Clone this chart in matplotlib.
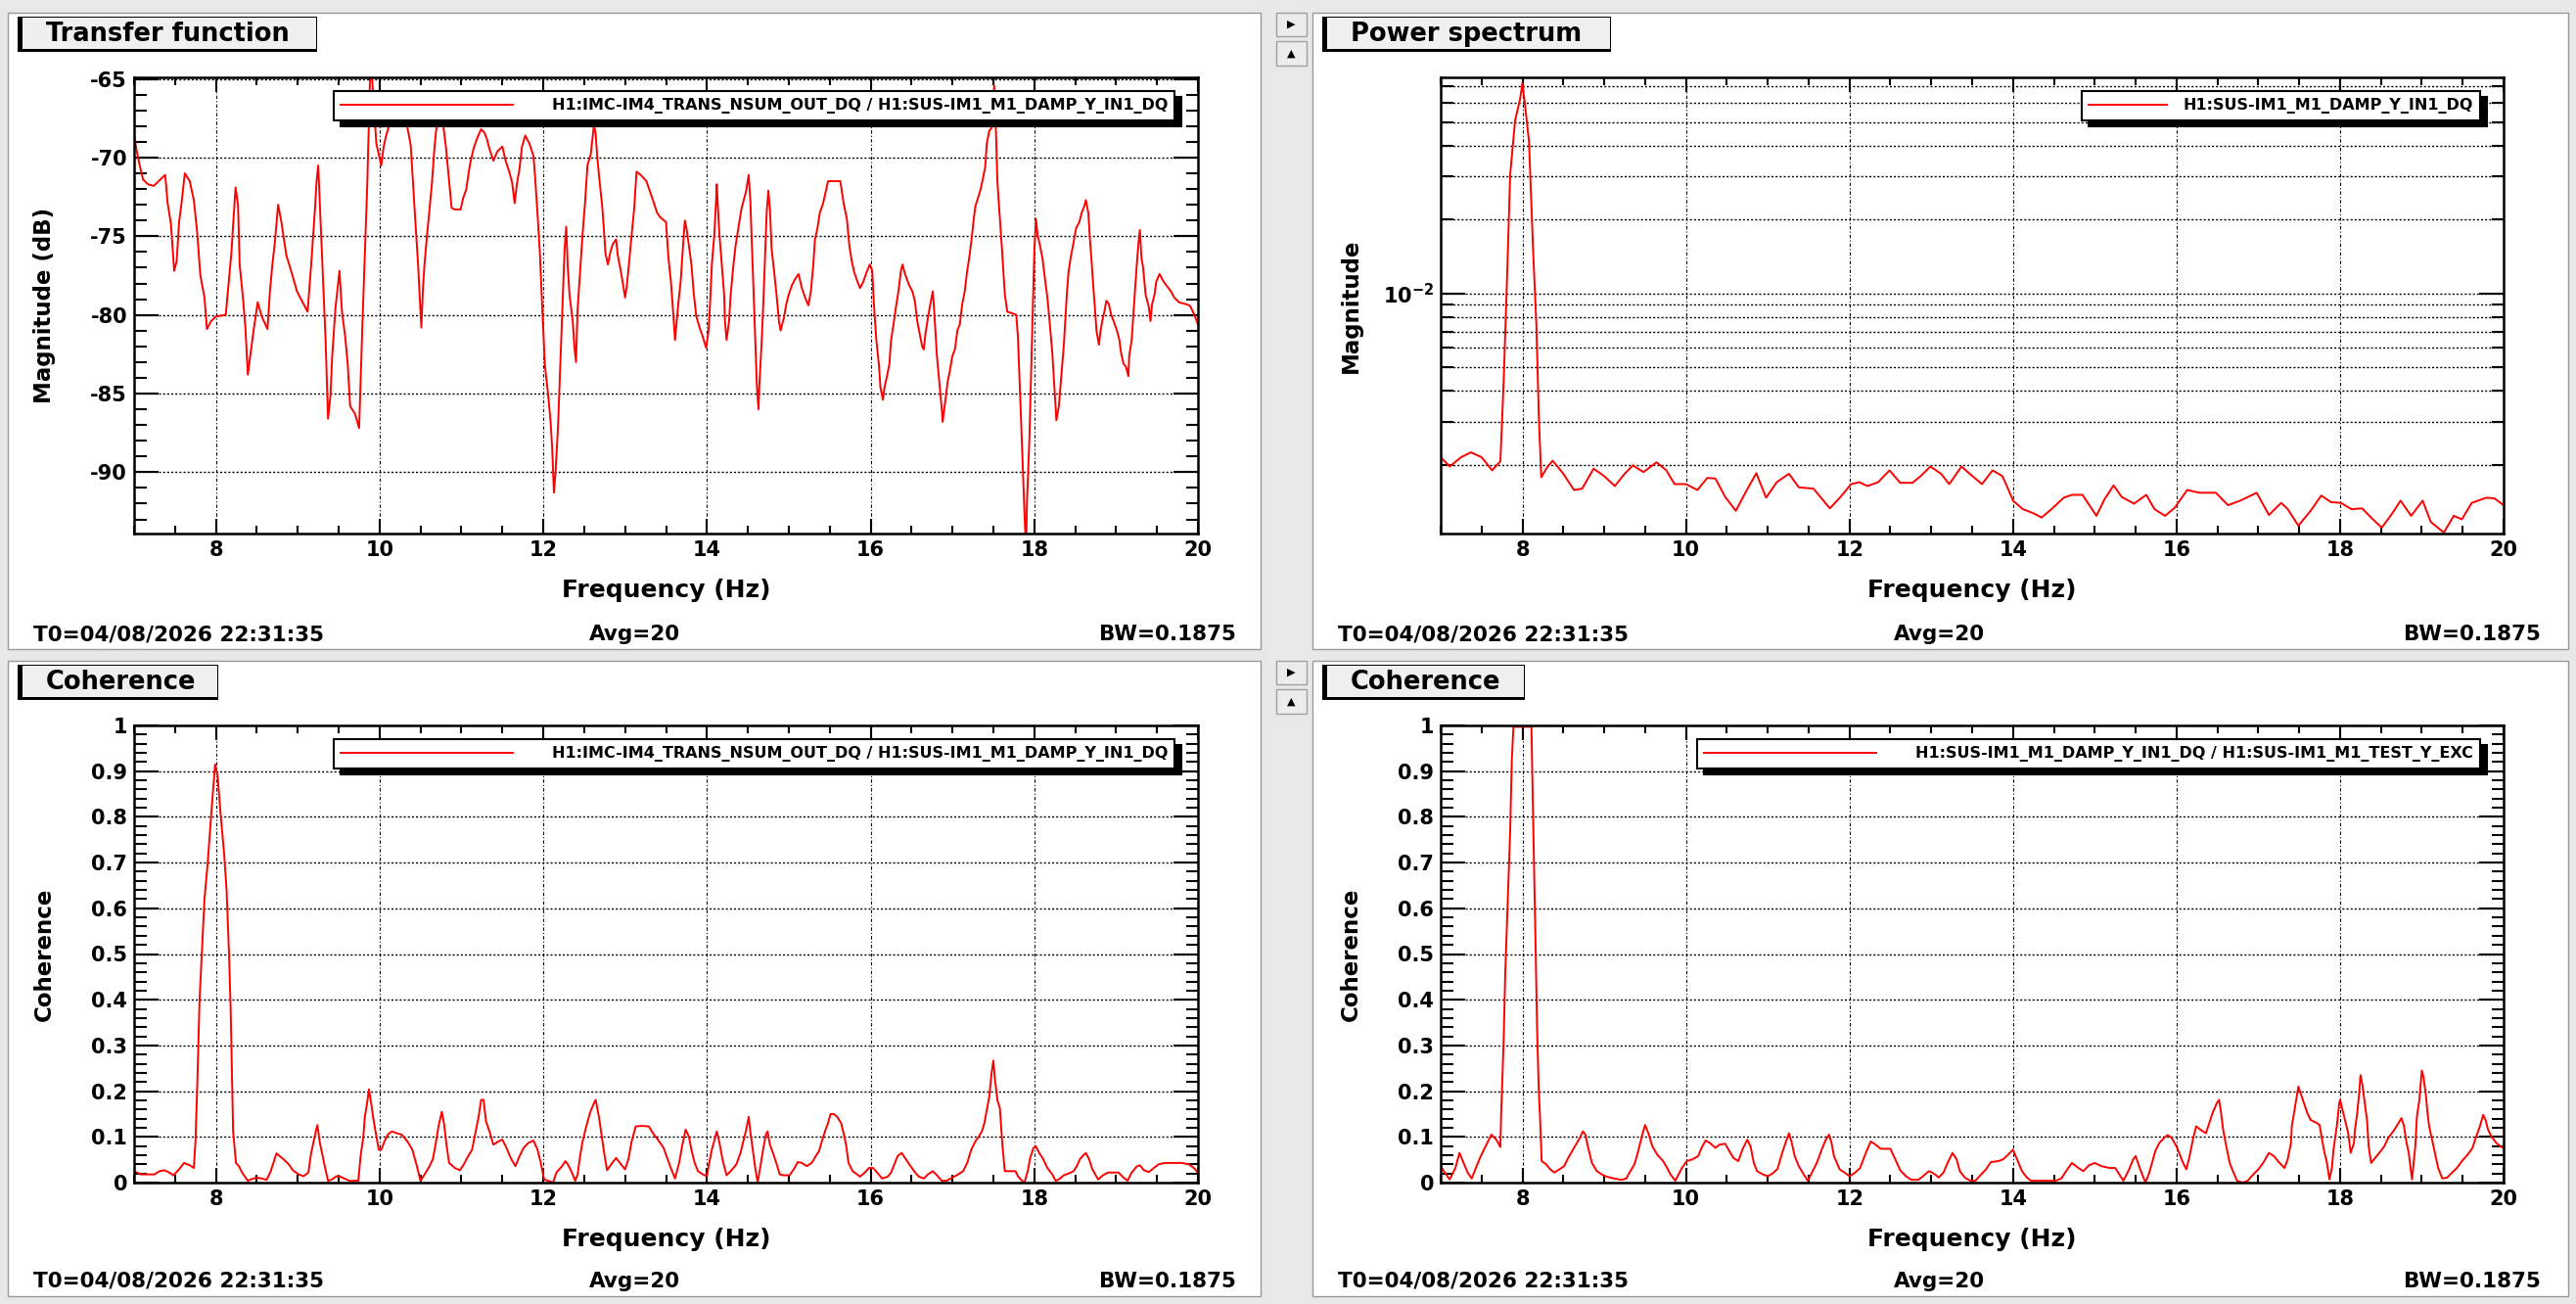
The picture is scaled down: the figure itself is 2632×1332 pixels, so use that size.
import matplotlib.pyplot as plt
from matplotlib.patches import Rectangle
from matplotlib.ticker import (MultipleLocator, FixedLocator, LogLocator,
                               NullFormatter, FuncFormatter)

W, H = 2632, 1332  # output size in pixels

# ---------------------------------------------------------------------------
# data
# ---------------------------------------------------------------------------
chan_tf = 'H1:IMC-IM4_TRANS_NSUM_OUT_DQ / H1:SUS-IM1_M1_DAMP_Y_IN1_DQ'
chan_ps = 'H1:SUS-IM1_M1_DAMP_Y_IN1_DQ'
chan_coh2 = 'H1:SUS-IM1_M1_DAMP_Y_IN1_DQ / H1:SUS-IM1_M1_TEST_Y_EXC'

# transfer function magnitude (dB)
tf_freq = [
    7.00, 7.03, 7.06, 7.11, 7.17, 7.24, 7.30, 7.38, 7.41, 7.45,
    7.49, 7.52, 7.55, 7.58, 7.62, 7.68, 7.73, 7.77, 7.81, 7.86,
    7.89, 7.94, 8.00, 8.12, 8.16, 8.19, 8.21, 8.24, 8.27, 8.29,
    8.33, 8.36, 8.39, 8.42, 8.46, 8.51, 8.56, 8.63, 8.66, 8.69,
    8.72, 8.76, 8.80, 8.86, 8.93, 8.99, 9.06, 9.12, 9.16, 9.21,
    9.23, 9.25, 9.29, 9.34, 9.37, 9.40, 9.42, 9.46, 9.51, 9.54,
    9.58, 9.61, 9.64, 9.70, 9.75, 9.79, 9.82, 9.85, 9.89, 9.96,
    10.02, 10.05, 10.08, 10.20, 10.30, 10.38, 10.41, 10.44, 10.47, 10.50,
    10.51, 10.53, 10.55, 10.58, 10.61, 10.64, 10.67, 10.69, 10.75, 10.81,
    10.84, 10.88, 10.92, 10.99, 11.02, 11.06, 11.09, 11.11, 11.15, 11.19,
    11.24, 11.28, 11.31, 11.34, 11.39, 11.44, 11.50, 11.54, 11.59, 11.62,
    11.65, 11.68, 11.71, 11.74, 11.78, 11.83, 11.88, 11.90, 11.93, 11.96,
    11.98, 12.00, 12.02, 12.06, 12.09, 12.11, 12.13, 12.15, 12.18, 12.20,
    12.22, 12.24, 12.26, 12.28, 12.30, 12.32, 12.36, 12.38, 12.40, 12.42,
    12.45, 12.48, 12.51, 12.54, 12.58, 12.62, 12.64, 12.66, 12.69, 12.72,
    12.74, 12.76, 12.79, 12.82, 12.85, 12.89, 12.91, 12.94, 12.97, 13.00,
    13.02, 13.05, 13.08, 13.11, 13.14, 13.19, 13.26, 13.30, 13.34, 13.39,
    13.43, 13.50, 13.53, 13.56, 13.58, 13.61, 13.65, 13.68, 13.70, 13.73,
    13.75, 13.78, 13.81, 13.84, 13.87, 13.91, 13.95, 13.99, 14.02, 14.04,
    14.06, 14.09, 14.11, 14.12, 14.15, 14.18, 14.21, 14.22, 14.24, 14.27,
    14.29, 14.32, 14.35, 14.39, 14.42, 14.45, 14.48, 14.51, 14.53, 14.55,
    14.57, 14.59, 14.61, 14.63, 14.64, 14.67, 14.69, 14.71, 14.73, 14.75,
    14.77, 14.79, 14.82, 14.85, 14.88, 14.90, 14.94, 14.97, 15.00, 15.04,
    15.08, 15.12, 15.16, 15.20, 15.24, 15.27, 15.30, 15.32, 15.35, 15.38,
    15.42, 15.45, 15.48, 15.63, 15.67, 15.71, 15.74, 15.77, 15.80, 15.84,
    15.87, 15.91, 15.95, 15.99, 16.02, 16.04, 16.07, 16.10, 16.12, 16.15,
    16.17, 16.20, 16.23, 16.25, 16.28, 16.31, 16.34, 16.37, 16.39, 16.42,
    16.47, 16.51, 16.54, 16.57, 16.60, 16.63, 16.65, 16.67, 16.70, 16.73,
    16.76, 16.78, 16.81, 16.84, 16.87, 16.88, 16.91, 16.94, 16.97, 17.00,
    17.03, 17.06, 17.09, 17.12, 17.15, 17.18, 17.21, 17.24, 17.26, 17.28,
    17.31, 17.34, 17.37, 17.40, 17.42, 17.45, 17.48, 17.51, 17.53, 17.55,
    17.58, 17.61, 17.64, 17.67, 17.73, 17.78, 17.80, 17.82, 17.84, 17.86,
    17.88, 17.90, 17.91, 17.94, 17.96, 17.98, 18.00, 18.02, 18.04, 18.07,
    18.10, 18.13, 18.16, 18.19, 18.22, 18.24, 18.26, 18.27, 18.30, 18.33,
    18.36, 18.38, 18.40, 18.42, 18.45, 18.48, 18.51, 18.55, 18.58, 18.61,
    18.63, 18.66, 18.68, 18.70, 18.72, 18.74, 18.76, 18.79, 18.81, 18.83,
    18.86, 18.88, 18.91, 18.94, 18.97, 19.01, 19.04, 19.06, 19.09, 19.12,
    19.15, 19.16, 19.19, 19.21, 19.23, 19.25, 19.27, 19.29, 19.31, 19.33,
    19.36, 19.38, 19.40, 19.42, 19.44, 19.47, 19.49, 19.53, 19.57, 19.61,
    19.67, 19.71, 19.77, 19.84, 19.90, 19.94, 20.00,
]
tf_db = [
    -68.6, -69.5, -70.3, -71.4, -71.7, -71.8, -71.5, -71.1, -72.9, -74.2,
    -77.2, -76.6, -74.1, -72.9, -71.0, -71.5, -72.7, -74.7, -77.5, -78.9,
    -80.9, -80.4, -80.1, -80.0, -77.7, -76.0, -74.3, -71.9, -73.0, -76.8,
    -78.9, -80.8, -83.8, -82.6, -81.0, -79.2, -80.1, -80.9, -78.5, -76.8,
    -75.4, -73.0, -74.1, -76.2, -77.4, -78.5, -79.2, -79.8, -77.1, -73.3,
    -71.5, -70.5, -75.4, -81.6, -86.6, -85.1, -82.7, -79.6, -77.2, -79.8,
    -81.4, -83.1, -85.8, -86.3, -87.2, -80.6, -76.1, -71.6, -63.5, -69.1,
    -70.5, -69.3, -68.6, -66.5, -67.0, -69.2, -71.8, -74.3, -76.8, -79.8,
    -80.8, -78.3, -76.7, -74.9, -73.3, -71.6, -69.4, -68.3, -66.8, -69.3,
    -71.0, -73.2, -73.3, -73.3, -72.6, -72.0, -70.9, -70.3, -69.4, -68.8,
    -68.2, -68.4, -68.8, -69.4, -70.2, -69.6, -69.3, -70.2, -71.0, -71.6,
    -72.9, -71.6, -70.7, -69.3, -68.6, -69.1, -69.9, -71.2, -73.6, -76.2,
    -78.7, -81.0, -83.2, -85.1, -86.8, -88.6, -91.3, -90.0, -87.1, -84.3,
    -81.5, -78.7, -75.9, -74.4, -77.0, -78.7, -80.4, -82.0, -83.0, -79.6,
    -77.3, -74.9, -72.9, -70.5, -69.8, -67.9, -68.5, -70.0, -71.6, -73.1,
    -74.5, -76.1, -76.8, -76.0, -75.5, -75.2, -76.2, -77.0, -77.9, -78.9,
    -78.2, -76.6, -74.9, -73.3, -70.9, -71.1, -71.5, -72.1, -72.7, -73.5,
    -73.8, -74.1, -76.4, -77.9, -79.3, -81.6, -79.3, -77.8, -76.2, -74.0,
    -74.5, -75.6, -76.8, -78.7, -80.1, -80.8, -81.4, -82.1, -81.0, -79.1,
    -76.8, -74.9, -72.9, -71.7, -74.7, -76.7, -78.7, -80.4, -81.6, -80.4,
    -78.7, -77.0, -75.6, -74.3, -73.3, -72.7, -72.1, -71.1, -72.7, -75.6,
    -78.5, -81.5, -84.5, -86.0, -84.5, -81.6, -79.1, -76.3, -73.5, -72.1,
    -73.3, -75.8, -77.2, -78.7, -80.4, -81.0, -80.2, -79.3, -78.7, -78.1,
    -77.7, -77.4, -78.3, -78.9, -79.4, -78.5, -76.8, -75.2, -74.5, -73.5,
    -72.9, -72.2, -71.5, -71.5, -72.9, -73.9, -75.6, -76.6, -77.3, -77.9,
    -78.3, -77.9, -77.3, -76.8, -77.2, -79.3, -81.6, -83.1, -84.6, -85.4,
    -84.6, -83.9, -83.1, -81.6, -80.6, -79.5, -78.5, -77.2, -76.8, -77.4,
    -78.1, -78.5, -79.1, -80.4, -81.2, -82.0, -82.2, -81.2, -80.2, -79.3,
    -78.5, -80.0, -82.6, -84.3, -86.0, -86.8, -85.6, -84.3, -83.5, -82.6,
    -82.2, -81.0, -80.6, -79.3, -78.5, -77.2, -76.2, -74.9, -73.9, -73.1,
    -72.6, -72.1, -71.4, -70.6, -69.1, -68.3, -68.1, -65.4, -68.1, -71.6,
    -73.9, -76.2, -78.7, -79.8, -79.9, -80.0, -81.4, -84.1, -86.9, -89.7,
    -92.6, -95.0, -92.0, -87.9, -83.9, -80.0, -76.0, -73.9, -74.9, -75.6,
    -76.4, -77.7, -78.9, -80.6, -82.4, -84.1, -85.8, -86.7, -85.8, -83.9,
    -82.0, -80.2, -78.5, -77.2, -76.2, -75.4, -74.5, -74.1, -73.5, -73.1,
    -72.7, -73.5, -75.2, -76.6, -78.1, -79.5, -81.0, -81.9, -81.0, -80.4,
    -79.7, -79.1, -79.3, -80.0, -80.4, -81.0, -81.6, -82.4, -83.1, -83.3,
    -83.9, -82.6, -81.6, -80.0, -78.5, -77.0, -75.6, -74.6, -76.4, -77.0,
    -78.7, -79.1, -79.5, -80.4, -79.3, -78.7, -77.9, -77.4, -77.8, -78.1,
    -78.5, -78.9, -79.2, -79.3, -79.4, -79.8, -80.6,
]

# power spectrum magnitude
ps_freq = [
    7.00, 7.11, 7.25, 7.37, 7.50, 7.63, 7.73, 7.77, 7.81, 7.85,
    7.91, 7.97, 8.00, 8.03, 8.08, 8.13, 8.17, 8.20, 8.23, 8.30,
    8.37, 8.50, 8.63, 8.73, 8.87, 9.00, 9.13, 9.25, 9.35, 9.48,
    9.64, 9.76, 9.86, 10.00, 10.14, 10.26, 10.36, 10.48, 10.61, 10.74,
    10.86, 10.98, 11.11, 11.26, 11.38, 11.56, 11.76, 11.89, 12.02, 12.12,
    12.22, 12.35, 12.49, 12.62, 12.77, 12.87, 12.99, 13.12, 13.22, 13.37,
    13.47, 13.62, 13.75, 13.87, 13.95, 14.00, 14.12, 14.25, 14.35, 14.47,
    14.62, 14.72, 14.85, 15.02, 15.12, 15.23, 15.33, 15.48, 15.63, 15.73,
    15.86, 15.98, 16.13, 16.28, 16.48, 16.63, 16.78, 16.98, 17.13, 17.28,
    17.36, 17.49, 17.64, 17.77, 17.89, 18.01, 18.14, 18.27, 18.39, 18.51,
    18.64, 18.74, 18.87, 19.01, 19.11, 19.27, 19.39, 19.49, 19.61, 19.79,
    19.89, 20.00,
]
ps_mag = [
    2.15e-3, 1.97e-3, 2.15e-3, 2.25e-3, 2.15e-3, 1.90e-3, 2.07e-3, 4.34e-3, 1.11e-2, 3.05e-2,
    5.07e-2, 6.17e-2, 7.20e-2, 5.93e-2, 4.17e-2, 1.51e-2, 7.50e-3, 3.18e-3, 1.78e-3, 1.95e-3,
    2.08e-3, 1.84e-3, 1.58e-3, 1.60e-3, 1.93e-3, 1.80e-3, 1.64e-3, 1.84e-3, 1.99e-3, 1.87e-3,
    2.05e-3, 1.90e-3, 1.67e-3, 1.67e-3, 1.58e-3, 1.77e-3, 1.76e-3, 1.48e-3, 1.30e-3, 1.57e-3,
    1.85e-3, 1.47e-3, 1.70e-3, 1.84e-3, 1.62e-3, 1.60e-3, 1.33e-3, 1.48e-3, 1.67e-3, 1.70e-3,
    1.64e-3, 1.70e-3, 1.90e-3, 1.69e-3, 1.69e-3, 1.80e-3, 1.97e-3, 1.84e-3, 1.67e-3, 1.97e-3,
    1.84e-3, 1.67e-3, 1.90e-3, 1.80e-3, 1.57e-3, 1.43e-3, 1.32e-3, 1.27e-3, 1.22e-3, 1.32e-3,
    1.47e-3, 1.51e-3, 1.51e-3, 1.24e-3, 1.45e-3, 1.65e-3, 1.48e-3, 1.39e-3, 1.51e-3, 1.32e-3,
    1.24e-3, 1.34e-3, 1.58e-3, 1.54e-3, 1.54e-3, 1.37e-3, 1.43e-3, 1.54e-3, 1.25e-3, 1.40e-3,
    1.32e-3, 1.13e-3, 1.30e-3, 1.50e-3, 1.41e-3, 1.40e-3, 1.32e-3, 1.33e-3, 1.21e-3, 1.11e-3,
    1.27e-3, 1.43e-3, 1.24e-3, 1.43e-3, 1.17e-3, 1.06e-3, 1.24e-3, 1.20e-3, 1.40e-3, 1.47e-3,
    1.46e-3, 1.37e-3,
]

# coherence IMC-IM4 / SUS-IM1 damp
coh1_freq = [
    7.00, 7.08, 7.25, 7.31, 7.37, 7.43, 7.48, 7.55, 7.61, 7.68,
    7.73, 7.75, 7.77, 7.80, 7.83, 7.86, 7.90, 7.94, 7.99, 8.02,
    8.06, 8.10, 8.13, 8.16, 8.18, 8.195, 8.21, 8.245, 8.28, 8.32,
    8.39, 8.43, 8.49, 8.56, 8.62, 8.67, 8.74, 8.82, 8.89, 8.94,
    9.01, 9.07, 9.13, 9.16, 9.19, 9.22, 9.24, 9.27, 9.30, 9.33,
    9.37, 9.42, 9.47, 9.52, 9.57, 9.63, 9.74, 9.77, 9.80, 9.82,
    9.85, 9.87, 9.90, 9.92, 9.95, 9.99, 10.02, 10.06, 10.10, 10.15,
    10.21, 10.27, 10.34, 10.40, 10.45, 10.50, 10.55, 10.61, 10.65, 10.68,
    10.72, 10.76, 10.79, 10.82, 10.85, 10.92, 10.98, 11.03, 11.07, 11.13,
    11.17, 11.21, 11.24, 11.27, 11.30, 11.35, 11.39, 11.45, 11.50, 11.55,
    11.61, 11.66, 11.71, 11.76, 11.82, 11.88, 11.93, 11.97, 12.01, 12.06,
    12.12, 12.16, 12.23, 12.27, 12.30, 12.35, 12.39, 12.42, 12.45, 12.48,
    12.53, 12.57, 12.61, 12.64, 12.68, 12.72, 12.75, 12.78, 12.83, 12.89,
    12.95, 13.00, 13.04, 13.08, 13.13, 13.21, 13.29, 13.34, 13.40, 13.47,
    13.55, 13.61, 13.66, 13.70, 13.74, 13.78, 13.81, 13.85, 13.89, 13.95,
    14.00, 14.02, 14.06, 14.12, 14.15, 14.19, 14.24, 14.30, 14.36, 14.41,
    14.45, 14.48, 14.51, 14.53, 14.56, 14.59, 14.62, 14.65, 14.69, 14.72,
    14.74, 14.77, 14.82, 14.86, 14.89, 14.94, 15.01, 15.06, 15.11, 15.16,
    15.22, 15.28, 15.33, 15.37, 15.41, 15.45, 15.48, 15.51, 15.55, 15.59,
    15.64, 15.67, 15.70, 15.73, 15.78, 15.82, 15.87, 15.93, 15.98, 16.03,
    16.08, 16.14, 16.21, 16.25, 16.29, 16.33, 16.38, 16.42, 16.48, 16.54,
    16.59, 16.65, 16.70, 16.76, 16.81, 16.87, 16.93, 17.00, 17.07, 17.13,
    17.18, 17.23, 17.28, 17.32, 17.36, 17.39, 17.42, 17.45, 17.48, 17.50,
    17.52, 17.55, 17.58, 17.61, 17.64, 17.70, 17.77, 17.80, 17.85, 17.88,
    17.92, 17.95, 17.99, 18.02, 18.06, 18.11, 18.16, 18.22, 18.26, 18.30,
    18.36, 18.42, 18.48, 18.52, 18.56, 18.63, 18.67, 18.71, 18.78, 18.84,
    18.90, 19.03, 19.09, 19.14, 19.19, 19.25, 19.29, 19.34, 19.40, 19.46,
    19.52, 19.59, 19.80, 19.89, 19.95, 20.00,
]
coh1_val = [
    0.025, 0.018, 0.018, 0.025, 0.027, 0.022, 0.016, 0.029, 0.043, 0.038,
    0.032, 0.090, 0.200, 0.400, 0.510, 0.620, 0.700, 0.800, 0.915, 0.890,
    0.800, 0.720, 0.640, 0.500, 0.380, 0.245, 0.112, 0.043, 0.036, 0.022,
    0.004, 0.007, 0.011, 0.009, 0.006, 0.025, 0.064, 0.052, 0.040, 0.027,
    0.018, 0.014, 0.022, 0.061, 0.087, 0.112, 0.126, 0.087, 0.061, 0.036,
    0.004, 0.007, 0.014, 0.013, 0.009, 0.004, 0.004, 0.061, 0.098, 0.144,
    0.177, 0.204, 0.170, 0.144, 0.112, 0.072, 0.072, 0.090, 0.105, 0.112,
    0.108, 0.105, 0.090, 0.072, 0.040, 0.004, 0.018, 0.036, 0.051, 0.079,
    0.123, 0.155, 0.126, 0.079, 0.043, 0.032, 0.027, 0.040, 0.054, 0.072,
    0.108, 0.144, 0.181, 0.181, 0.134, 0.108, 0.083, 0.090, 0.094, 0.076,
    0.051, 0.036, 0.058, 0.076, 0.087, 0.092, 0.072, 0.043, 0.007, 0.004,
    0.000, 0.022, 0.036, 0.047, 0.040, 0.022, 0.004, 0.018, 0.058, 0.090,
    0.126, 0.152, 0.170, 0.181, 0.144, 0.094, 0.058, 0.027, 0.040, 0.054,
    0.040, 0.029, 0.051, 0.090, 0.123, 0.124, 0.123, 0.108, 0.094, 0.076,
    0.036, 0.009, 0.043, 0.083, 0.116, 0.100, 0.072, 0.043, 0.025, 0.018,
    0.014, 0.036, 0.072, 0.112, 0.090, 0.051, 0.016, 0.027, 0.040, 0.065,
    0.094, 0.116, 0.144, 0.112, 0.072, 0.032, 0.000, 0.032, 0.076, 0.105,
    0.112, 0.083, 0.058, 0.036, 0.018, 0.016, 0.016, 0.029, 0.045, 0.043,
    0.036, 0.043, 0.058, 0.069, 0.094, 0.116, 0.130, 0.150, 0.150, 0.144,
    0.130, 0.108, 0.083, 0.043, 0.025, 0.020, 0.013, 0.022, 0.032, 0.032,
    0.022, 0.009, 0.013, 0.022, 0.040, 0.058, 0.065, 0.054, 0.038, 0.023,
    0.013, 0.009, 0.018, 0.025, 0.016, 0.004, 0.004, 0.011, 0.018, 0.025,
    0.043, 0.072, 0.090, 0.100, 0.112, 0.130, 0.159, 0.188, 0.242, 0.267,
    0.224, 0.180, 0.162, 0.083, 0.025, 0.025, 0.025, 0.014, 0.004, 0.000,
    0.025, 0.054, 0.076, 0.079, 0.065, 0.051, 0.032, 0.018, 0.004, 0.007,
    0.016, 0.020, 0.025, 0.036, 0.052, 0.065, 0.051, 0.029, 0.007, 0.016,
    0.022, 0.022, 0.011, 0.004, 0.022, 0.035, 0.038, 0.027, 0.023, 0.032,
    0.040, 0.043, 0.043, 0.040, 0.032, 0.022,
]

# coherence SUS-IM1 damp / SUS-IM1 test excitation
coh2_freq = [
    7.00, 7.05, 7.11, 7.18, 7.23, 7.28, 7.33, 7.38, 7.43, 7.49,
    7.54, 7.58, 7.62, 7.68, 7.73, 7.74, 7.77, 7.79, 7.82, 7.85,
    7.87, 7.89, 8.00, 8.11, 8.12, 8.14, 8.16, 8.18, 8.20, 8.215,
    8.235, 8.29, 8.34, 8.39, 8.46, 8.51, 8.56, 8.63, 8.69, 8.74,
    8.77, 8.80, 8.85, 8.91, 8.97, 9.03, 9.12, 9.21, 9.27, 9.31,
    9.37, 9.41, 9.46, 9.50, 9.54, 9.59, 9.65, 9.72, 9.77, 9.81,
    9.87, 9.91, 9.95, 10.01, 10.08, 10.15, 10.19, 10.24, 10.29, 10.36,
    10.41, 10.48, 10.53, 10.58, 10.64, 10.69, 10.75, 10.79, 10.83, 10.87,
    10.94, 11.00, 11.06, 11.12, 11.17, 11.21, 11.26, 11.29, 11.33, 11.38,
    11.44, 11.49, 11.53, 11.60, 11.66, 11.71, 11.75, 11.78, 11.81, 11.88,
    11.94, 12.00, 12.07, 12.13, 12.20, 12.26, 12.32, 12.38, 12.50, 12.56,
    12.62, 12.69, 12.76, 12.84, 12.90, 12.97, 13.01, 13.06, 13.09, 13.15,
    13.20, 13.26, 13.31, 13.35, 13.41, 13.48, 13.54, 13.60, 13.67, 13.73,
    13.82, 13.88, 13.94, 14.00, 14.05, 14.11, 14.17, 14.22, 14.52, 14.59,
    14.65, 14.72, 14.80, 14.86, 14.93, 15.00, 15.08, 15.18, 15.25, 15.30,
    15.35, 15.42, 15.47, 15.50, 15.55, 15.58, 15.62, 15.66, 15.70, 15.74,
    15.79, 15.85, 15.89, 15.94, 16.00, 16.04, 16.08, 16.12, 16.16, 16.20,
    16.24, 16.29, 16.36, 16.40, 16.44, 16.49, 16.52, 16.54, 16.57, 16.60,
    16.65, 16.69, 16.74, 16.81, 16.87, 16.94, 17.00, 17.06, 17.13, 17.19,
    17.26, 17.32, 17.36, 17.40, 17.41, 17.44, 17.47, 17.49, 17.52, 17.56,
    17.60, 17.64, 17.71, 17.75, 17.78, 17.81, 17.84, 17.87, 17.90, 17.92,
    17.96, 17.99, 18.00, 18.04, 18.07, 18.10, 18.13, 18.17, 18.18, 18.21,
    18.23, 18.25, 18.27, 18.30, 18.33, 18.35, 18.38, 18.43, 18.48, 18.54,
    18.59, 18.65, 18.69, 18.75, 18.78, 18.81, 18.84, 18.86, 18.88, 18.90,
    18.92, 18.94, 18.97, 19.00, 19.02, 19.05, 19.07, 19.09, 19.12, 19.16,
    19.20, 19.25, 19.31, 19.37, 19.43, 19.49, 19.56, 19.62, 19.66, 19.71,
    19.75, 19.78, 19.81, 19.85, 19.91, 19.97, 20.00,
]
coh2_val = [
    0.036, 0.022, 0.007, 0.032, 0.065, 0.043, 0.022, 0.009, 0.032, 0.058,
    0.076, 0.090, 0.105, 0.094, 0.078, 0.152, 0.310, 0.460, 0.615, 0.770,
    0.924, 0.997, 0.997, 0.997, 0.897, 0.715, 0.524, 0.330, 0.200, 0.144,
    0.047, 0.040, 0.029, 0.022, 0.030, 0.036, 0.054, 0.076, 0.094, 0.112,
    0.105, 0.079, 0.043, 0.025, 0.018, 0.013, 0.009, 0.006, 0.009, 0.022,
    0.040, 0.065, 0.101, 0.126, 0.108, 0.079, 0.061, 0.047, 0.032, 0.018,
    0.004, 0.018, 0.032, 0.047, 0.051, 0.058, 0.076, 0.092, 0.087, 0.076,
    0.083, 0.085, 0.069, 0.054, 0.047, 0.072, 0.094, 0.079, 0.043, 0.025,
    0.018, 0.014, 0.020, 0.030, 0.061, 0.083, 0.108, 0.090, 0.058, 0.036,
    0.018, 0.004, 0.018, 0.043, 0.072, 0.094, 0.105, 0.087, 0.058, 0.029,
    0.022, 0.014, 0.022, 0.032, 0.065, 0.090, 0.083, 0.074, 0.074, 0.051,
    0.027, 0.014, 0.006, 0.006, 0.014, 0.025, 0.022, 0.016, 0.011, 0.022,
    0.043, 0.065, 0.051, 0.025, 0.011, 0.004, 0.004, 0.016, 0.029, 0.045,
    0.047, 0.051, 0.061, 0.072, 0.051, 0.025, 0.011, 0.004, 0.004, 0.009,
    0.025, 0.043, 0.032, 0.025, 0.038, 0.043, 0.036, 0.032, 0.032, 0.018,
    0.004, 0.029, 0.051, 0.058, 0.032, 0.018, 0.000, 0.018, 0.043, 0.069,
    0.087, 0.098, 0.104, 0.098, 0.079, 0.061, 0.043, 0.029, 0.058, 0.094,
    0.123, 0.116, 0.108, 0.130, 0.152, 0.173, 0.181, 0.159, 0.116, 0.087,
    0.043, 0.025, 0.004, 0.000, 0.004, 0.018, 0.029, 0.043, 0.065, 0.058,
    0.043, 0.032, 0.051, 0.087, 0.123, 0.155, 0.188, 0.210, 0.194, 0.173,
    0.152, 0.137, 0.131, 0.126, 0.094, 0.065, 0.043, 0.007, 0.032, 0.072,
    0.123, 0.173, 0.181, 0.152, 0.130, 0.108, 0.065, 0.087, 0.112, 0.152,
    0.188, 0.235, 0.217, 0.177, 0.137, 0.079, 0.043, 0.054, 0.065, 0.079,
    0.098, 0.112, 0.123, 0.141, 0.126, 0.090, 0.065, 0.036, 0.007, 0.043,
    0.079, 0.144, 0.181, 0.245, 0.231, 0.191, 0.152, 0.123, 0.098, 0.065,
    0.032, 0.009, 0.011, 0.022, 0.032, 0.047, 0.061, 0.076, 0.098, 0.123,
    0.148, 0.137, 0.116, 0.101, 0.087, 0.078, 0.076,
]

footer = ('T0=04/08/2026 22:31:35', 'Avg=20', 'BW=0.1875')

# ---------------------------------------------------------------------------
# helpers (geometry in screenshot pixels, origin top-left)
# ---------------------------------------------------------------------------
def fig_rect(x0, y0, x1, y1):
    return [x0 / W, 1 - y1 / H, (x1 - x0) / W, (y1 - y0) / H]


def add_box(fig, x0, y0, x1, y1, **kw):
    l, b, w, h = fig_rect(x0, y0, x1, y1)
    fig.add_artist(Rectangle((l, b), w, h, transform=fig.transFigure, **kw))


def draw_pad(fig, left, top, right, bottom, title, title_right, buttons):
    # white pad with a thin grey border
    add_box(fig, left, top, right, bottom, facecolor='white',
            edgecolor='#9a9a9a', linewidth=1.0, zorder=-5)
    # raised title box: dark left and bottom edge
    add_box(fig, left + 10, top + 4, title_right, top + 40,
            facecolor='black', edgecolor='none', zorder=5)
    add_box(fig, left + 15, top + 5, title_right - 1, top + 37,
            facecolor='#f0f0f0', edgecolor='none', zorder=5)
    fig.text((left + 39) / W, 1 - (top + 21.5) / H, title, fontsize=18.5,
             ha='left', va='center', zorder=6)
    # footer line
    y = 1 - (bottom - 15) / H
    fig.text((left + 26) / W, y, footer[0], fontsize=15.5, ha='left', va='center')
    fig.text((left + 640) / W, y, footer[1], fontsize=15.5, ha='center', va='center')
    fig.text((left + 1255) / W, y, footer[2], fontsize=15.5, ha='right', va='center')
    # little arrow buttons left of the right-hand pads
    if buttons:
        for (b0, b1), glyph in zip([(top, top + 24), (top + 29, top + 54)], ['▶', '▲']):
            add_box(fig, 1304, b0, 1335, b1, facecolor='#ececec',
                    edgecolor='#a0a0a0', linewidth=1.0, zorder=5)
            fig.text(1319.5 / W, 1 - (b0 + b1) / 2 / H, glyph, fontsize=8,
                     ha='center', va='center', zorder=6)


def style_axes(ax, ylabel):
    ax.set_xlim(7, 20)
    ax.xaxis.set_major_locator(MultipleLocator(2))
    ax.xaxis.set_minor_locator(MultipleLocator(0.5))
    ax.tick_params(which='both', direction='in', top=True, right=True,
                   width=1.5, colors='black', labelsize=15)
    ax.tick_params(axis='x', which='major', length=11, pad=5)
    ax.tick_params(axis='x', which='minor', length=6)
    ax.tick_params(axis='y', which='major', length=18, pad=5)
    ax.tick_params(axis='y', which='minor', length=9)
    for sp in ax.spines.values():
        sp.set_linewidth(1.8)
    ax.xaxis.grid(True, which='major', color='black', linewidth=0.8,
                  linestyle=(0, (3, 2, 1, 2)))
    ax.set_xlabel('Frequency (Hz)', fontsize=18, va='center')
    ax.xaxis.set_label_coords(0.5, -0.125)
    ax.set_ylabel(ylabel, fontsize=16.5, va='center')
    ax.yaxis.set_label_coords(-0.084, 0.5)


def add_legend(ax, hl, htp):
    leg = ax.legend(loc='upper right', bbox_to_anchor=(0.978, 0.970),
                    borderaxespad=0, fancybox=False, framealpha=1,
                    edgecolor='black', borderpad=0.45, handlelength=hl,
                    handletextpad=htp,
                    shadow={'ox': 5, 'oy': -4, 'color': 'black', 'alpha': 1},
                    prop={'weight': 'bold', 'size': 11.5})
    leg.get_frame().set_linewidth(1.5)


def draw_graph():
    plt.rcParams['font.family'] = ['DejaVu Sans']
    plt.rcParams['font.weight'] = 'bold'
    plt.rcParams['axes.labelweight'] = 'bold'
    plt.rcParams['axes.unicode_minus'] = False

    fig = plt.figure(figsize=(W / 100, H / 100), dpi=100, facecolor='#e8e8e8')

    draw_pad(fig, 8, 13, 1288, 663, 'Transfer function', 324, False)
    draw_pad(fig, 1341, 13, 2624, 663, 'Power spectrum', 1646, True)
    draw_pad(fig, 8, 675, 1288, 1324, 'Coherence', 223, False)
    draw_pad(fig, 1341, 675, 2624, 1324, 'Coherence', 1558, True)

    ygrid = dict(color='black', linewidth=1.0, linestyle=(0, (1.5, 1.5)))

    # transfer function
    ax = fig.add_axes(fig_rect(137, 79, 1224, 545))
    ax.plot(tf_freq, tf_db, color='red', linewidth=1.4, label=chan_tf)
    ax.set_ylim(-93.9, -64.9)
    ax.yaxis.set_major_locator(MultipleLocator(5))
    ax.yaxis.set_minor_locator(MultipleLocator(1))
    ax.yaxis.set_major_formatter(FuncFormatter(lambda v, p: '%d' % round(v)))
    ax.yaxis.grid(True, which='major', **ygrid)
    style_axes(ax, 'Magnitude (dB)')
    add_legend(ax, 11, 2.5)

    # power spectrum
    ax = fig.add_axes(fig_rect(1472, 79, 2558, 545))
    ax.plot(ps_freq, ps_mag, color='red', linewidth=1.4, label=chan_ps)
    ax.set_yscale('log')
    ax.set_ylim(1.05e-3, 7.6e-2)
    ax.yaxis.set_major_locator(FixedLocator([1e-2]))
    ax.yaxis.set_minor_locator(LogLocator(base=10, subs=range(2, 10), numticks=20))
    ax.yaxis.set_minor_formatter(NullFormatter())
    ax.yaxis.grid(True, which='both', **ygrid)
    style_axes(ax, 'Magnitude')
    add_legend(ax, 5.0, 1.06)

    # coherences
    for box, fr, val, lab, hl, htp in [
            ((137, 741, 1224, 1208), coh1_freq, coh1_val, chan_tf, 11, 2.5),
            ((1472, 741, 2558, 1208), coh2_freq, coh2_val, chan_coh2, 11, 2.5)]:
        ax = fig.add_axes(fig_rect(*box))
        ax.plot(fr, val, color='red', linewidth=1.4, label=lab)
        ax.set_ylim(0, 1)
        ax.yaxis.set_major_locator(MultipleLocator(0.1))
        ax.yaxis.set_minor_locator(MultipleLocator(0.02))
        ax.yaxis.set_major_formatter(FuncFormatter(lambda v, p: '%g' % round(v, 2)))
        ax.yaxis.grid(True, which='major', **ygrid)
        style_axes(ax, 'Coherence')
        add_legend(ax, hl, htp)

    fig.savefig('out.png', dpi=100, facecolor=fig.get_facecolor())


def main():
    draw_graph()


if __name__ == '__main__':
    main()
